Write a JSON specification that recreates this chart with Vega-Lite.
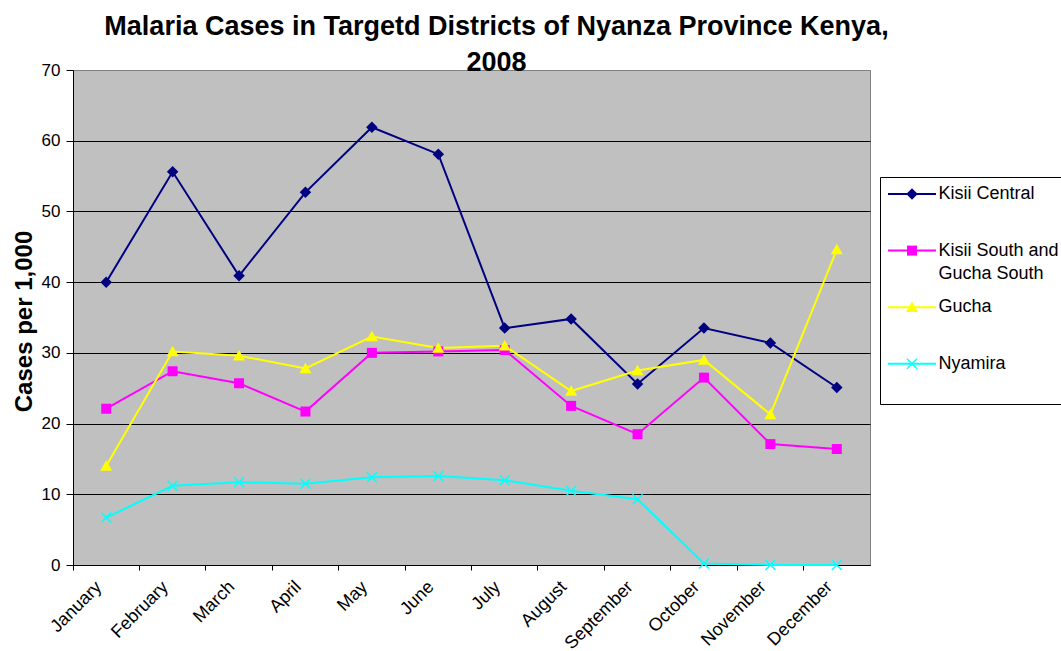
{
  "$schema": "https://vega.github.io/schema/vega-lite/v6.json",
  "width": 797,
  "height": 495,
  "autosize": "none",
  "padding": {"left": 73, "top": 70, "right": 191, "bottom": 86},
  "background": "white",
  "config": {
    "font": "Liberation Sans",
    "view": {"fill": "#C0C0C0", "stroke": "#808080", "strokeWidth": 1},
    "style": {"guide-label": {"lineHeight": 23}}
  },
  "title": {
    "text": ["Malaria Cases in Targetd Districts of Nyanza Province Kenya,", "2008"],
    "fontSize": 27,
    "fontWeight": "bold",
    "font": "Liberation Sans",
    "color": "black",
    "lineHeight": 36,
    "anchor": "middle",
    "frame": "group",
    "dx": 25,
    "baseline": "alphabetic",
    "offset": -37
  },
  "data": {
    "values": [
      {"month": "January", "series": "Kisii Central", "value": 40.0},
      {"month": "February", "series": "Kisii Central", "value": 55.6},
      {"month": "March", "series": "Kisii Central", "value": 40.9},
      {"month": "April", "series": "Kisii Central", "value": 52.7},
      {"month": "May", "series": "Kisii Central", "value": 61.9},
      {"month": "June", "series": "Kisii Central", "value": 58.1},
      {"month": "July", "series": "Kisii Central", "value": 33.5},
      {"month": "August", "series": "Kisii Central", "value": 34.8},
      {"month": "September", "series": "Kisii Central", "value": 25.6},
      {"month": "October", "series": "Kisii Central", "value": 33.5},
      {"month": "November", "series": "Kisii Central", "value": 31.4},
      {"month": "December", "series": "Kisii Central", "value": 25.1},
      {"month": "January", "series": "Kisii South and Gucha South", "value": 22.1},
      {"month": "February", "series": "Kisii South and Gucha South", "value": 27.4},
      {"month": "March", "series": "Kisii South and Gucha South", "value": 25.7},
      {"month": "April", "series": "Kisii South and Gucha South", "value": 21.7},
      {"month": "May", "series": "Kisii South and Gucha South", "value": 30.0},
      {"month": "June", "series": "Kisii South and Gucha South", "value": 30.2},
      {"month": "July", "series": "Kisii South and Gucha South", "value": 30.4},
      {"month": "August", "series": "Kisii South and Gucha South", "value": 22.5},
      {"month": "September", "series": "Kisii South and Gucha South", "value": 18.5},
      {"month": "October", "series": "Kisii South and Gucha South", "value": 26.5},
      {"month": "November", "series": "Kisii South and Gucha South", "value": 17.1},
      {"month": "December", "series": "Kisii South and Gucha South", "value": 16.4},
      {"month": "January", "series": "Gucha", "value": 14.0},
      {"month": "February", "series": "Gucha", "value": 30.2},
      {"month": "March", "series": "Gucha", "value": 29.6},
      {"month": "April", "series": "Gucha", "value": 27.8},
      {"month": "May", "series": "Gucha", "value": 32.3},
      {"month": "June", "series": "Gucha", "value": 30.7},
      {"month": "July", "series": "Gucha", "value": 31.0},
      {"month": "August", "series": "Gucha", "value": 24.6},
      {"month": "September", "series": "Gucha", "value": 27.5},
      {"month": "October", "series": "Gucha", "value": 29.0},
      {"month": "November", "series": "Gucha", "value": 21.3},
      {"month": "December", "series": "Gucha", "value": 44.6},
      {"month": "January", "series": "Nyamira", "value": 6.7},
      {"month": "February", "series": "Nyamira", "value": 11.2},
      {"month": "March", "series": "Nyamira", "value": 11.7},
      {"month": "April", "series": "Nyamira", "value": 11.5},
      {"month": "May", "series": "Nyamira", "value": 12.4},
      {"month": "June", "series": "Nyamira", "value": 12.6},
      {"month": "July", "series": "Nyamira", "value": 12.0},
      {"month": "August", "series": "Nyamira", "value": 10.5},
      {"month": "September", "series": "Nyamira", "value": 9.3},
      {"month": "October", "series": "Nyamira", "value": 0.2},
      {"month": "November", "series": "Nyamira", "value": 0.0},
      {"month": "December", "series": "Nyamira", "value": 0.0}
    ]
  },
  "encoding": {
    "x": {
      "field": "month",
      "type": "nominal",
      "sort": null,
      "scale": {"type": "band", "paddingInner": 0, "paddingOuter": 0},
      "axis": {
        "title": null,
        "bandPosition": 0,
        "labelOffset": -7,
        "labelAngle": -45,
        "labelAlign": "right",
        "labelBaseline": "middle",
        "labelFontSize": 18,
        "labelColor": "black",
        "labelPadding": 14,
        "tickColor": "black",
        "tickSize": 5,
        "domainColor": "black",
        "grid": false
      }
    },
    "y": {
      "field": "value",
      "type": "quantitative",
      "scale": {"domain": [0, 70], "nice": false, "zero": true},
      "axis": {
        "values": [0, 10, 20, 30, 40, 50, 60, 70],
        "title": "Cases per 1,000",
        "titleFontSize": 24,
        "titleFontWeight": "bold",
        "titleColor": "black",
        "titleAngle": -90,
        "titleAlign": "center",
        "titleBaseline": "middle",
        "titleX": -49,
        "titleY": 251,
        "labelFontSize": 17,
        "labelColor": "black",
        "labelPadding": 6,
        "tickColor": "black",
        "tickSize": 7,
        "domainColor": "black",
        "grid": true,
        "gridColor": {"condition": {"test": "datum.value === 70", "value": "#808080"}, "value": "black"},
        "gridWidth": 1,
        "gridOpacity": 1
      }
    }
  },
  "layer": [
    {
      "mark": {"type": "line", "strokeWidth": 2},
      "encoding": {
        "stroke": {
          "field": "series",
          "type": "nominal",
          "sort": null,
          "scale": {"range": ["#000080", "#FF00FF", "#FFFF00", "#00FFFF"]},
          "legend": {
            "title": null,
            "orient": "none",
            "legendX": 807,
            "legendY": 107,
            "padding": 8,
            "strokeColor": "black",
            "fillColor": "white",
            "symbolType": "M-6,0L6,0",
            "symbolSize": 64,
            "symbolOffset": 15,
            "symbolStrokeWidth": 2,
            "labelFontSize": 18,
            "labelColor": "black",
            "labelOffset": 17.5,
            "labelLimit": 400,
            "rowPadding": 15.6,
            "labelExpr": "datum.label == 'Kisii South and Gucha South' ? ['Kisii South and', 'Gucha South'] : [datum.label, ' ']"
          }
        }
      }
    },
    {
      "mark": {"type": "point", "filled": true, "opacity": 1, "size": 100, "strokeWidth": 0},
      "encoding": {
        "fill": {
          "field": "series",
          "type": "nominal",
          "scale": {
            "domain": ["Kisii Central", "Kisii South and Gucha South", "Gucha", "Nyamira"],
            "range": ["#000080", "#FF00FF", "#FFFF00", "#00FFFF"]
          },
          "legend": {
            "title": null,
            "orient": "none",
            "legendX": 807,
            "legendY": 107,
            "padding": 8,
            "symbolOffset": 15,
            "symbolSize": 100,
            "symbolStrokeWidth": 0,
            "symbolOpacity": 1,
            "labelFontSize": 18,
            "labelOpacity": 0,
            "labelOffset": 17.5,
            "labelLimit": 400,
            "rowPadding": 15.6,
            "labelExpr": "datum.label == 'Kisii South and Gucha South' ? ['Kisii South and', 'Gucha South'] : [datum.label, ' ']"
          }
        },
        "shape": {
          "field": "series",
          "type": "nominal",
          "scale": {
            "domain": ["Kisii Central", "Kisii South and Gucha South", "Gucha", "Nyamira"],
            "range": [
              "M0,-1.15L1.15,0L0,1.15L-1.15,0Z",
              "M-1,-1L1,-1L1,1L-1,1Z",
              "M0,-1.15L1.2,0.95L-1.2,0.95Z",
              "M-1.1,-0.9L-0.9,-1.1L0,-0.2L0.9,-1.1L1.1,-0.9L0.2,0L1.1,0.9L0.9,1.1L0,0.2L-0.9,1.1L-1.1,0.9L-0.2,0Z"
            ]
          },
          "legend": {
            "title": null,
            "orient": "none",
            "legendX": 807,
            "legendY": 107,
            "padding": 8,
            "symbolOffset": 15,
            "symbolSize": 100,
            "labelFontSize": 18,
            "labelOpacity": 0,
            "labelOffset": 17.5,
            "labelLimit": 400,
            "rowPadding": 15.6,
            "labelExpr": "datum.label == 'Kisii South and Gucha South' ? ['Kisii South and', 'Gucha South'] : [datum.label, ' ']"
          }
        }
      }
    }
  ]
}
